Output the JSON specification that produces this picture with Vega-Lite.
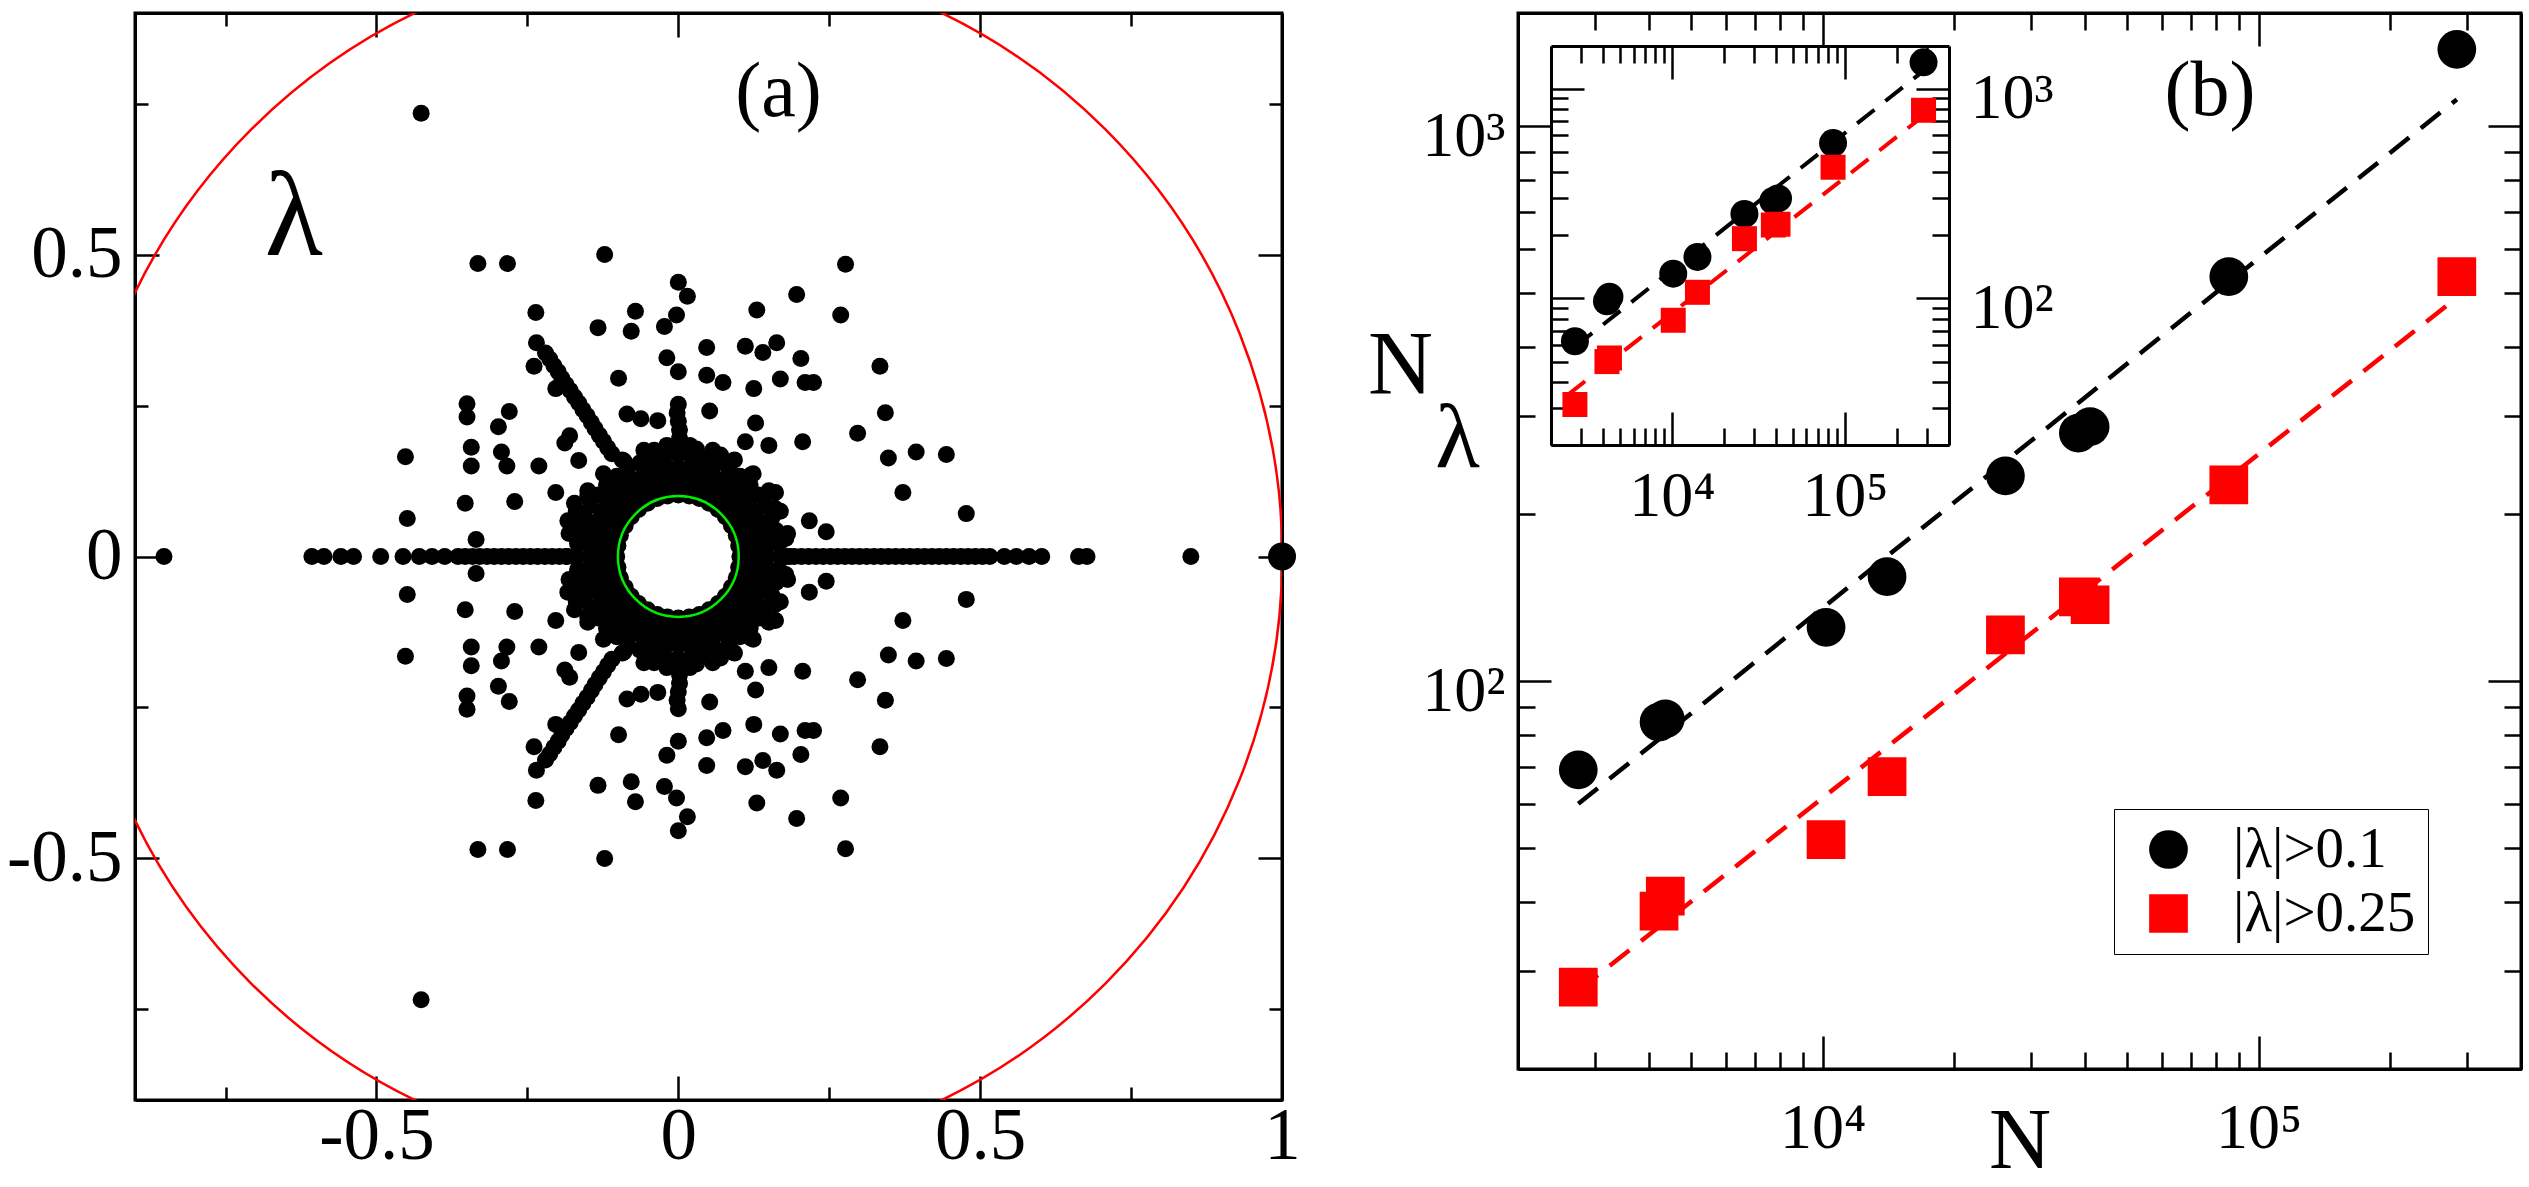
{
"$schema":"https://vega.github.io/schema/vega-lite/v6.json",
"background":"white",
"padding":{"left":4,"top":10,"right":5,"bottom":0},
"bounds":"flush",
"spacing":236,
"datasets":{
"eig":[
{"x":-0.426,"y":0.734},{"x":-0.332,"y":0.485},{"x":-0.283,"y":0.485},{"x":-0.122,"y":0.5},{"x":0.277,"y":0.484},{"x":0,"y":0.454},{"x":0.015,"y":0.431},{"x":0.196,"y":0.434},{"x":0.13,"y":0.408},{"x":0.269,"y":0.4},
{"x":-0.236,"y":0.404},{"x":-0.071,"y":0.406},{"x":-0.078,"y":0.373},{"x":-0.133,"y":0.379},{"x":-0.023,"y":0.381},{"x":-0.003,"y":0.4},{"x":-0.235,"y":0.354},{"x":0.047,"y":0.346},{"x":0.111,"y":0.348},{"x":0.163,"y":0.354},
{"x":0.14,"y":0.338},{"x":0.203,"y":0.328},{"x":0.334,"y":0.315},{"x":-0.239,"y":0.315},{"x":-0.019,"y":0.329},{"x":0,"y":0.306},{"x":0.047,"y":0.3},{"x":0.074,"y":0.288},{"x":-0.099,"y":0.295},{"x":-0.203,"y":0.278},
{"x":0.125,"y":0.278},{"x":0.169,"y":0.294},{"x":0.21,"y":0.288},{"x":0.224,"y":0.288},{"x":-0.35,"y":0.253},{"x":-0.35,"y":0.231},{"x":-0.28,"y":0.24},{"x":-0.298,"y":0.215},{"x":0.052,"y":0.241},{"x":0.343,"y":0.238},
{"x":-0.085,"y":0.236},{"x":-0.062,"y":0.228},{"x":-0.034,"y":0.225},{"x":-0.18,"y":0.2},{"x":-0.188,"y":0.188},{"x":0.111,"y":0.19},{"x":0.128,"y":0.221},{"x":0.15,"y":0.184},{"x":0.206,"y":0.19},{"x":0.297,"y":0.204},
{"x":-0.343,"y":0.181},{"x":-0.343,"y":0.15},{"x":-0.293,"y":0.173},{"x":-0.284,"y":0.15},{"x":-0.231,"y":0.15},{"x":-0.165,"y":0.159},{"x":0.348,"y":0.163},{"x":0.394,"y":0.173},{"x":0.444,"y":0.169},{"x":-0.452,"y":0.165},
{"x":0.372,"y":0.106},{"x":0.477,"y":0.071},{"x":0.217,"y":0.059},{"x":0.245,"y":0.041},{"x":-0.449,"y":0.063},{"x":-0.353,"y":0.088},{"x":-0.271,"y":0.091},{"x":-0.335,"y":0.028},{"x":-0.203,"y":0.106},{"x":-0.183,"y":0.059},
{"x":-0.172,"y":0.088},{"x":0.161,"y":0.106},
{"x":-0.426,"y":-0.734},{"x":-0.332,"y":-0.485},{"x":-0.283,"y":-0.485},{"x":-0.122,"y":-0.5},{"x":0.277,"y":-0.484},{"x":0,"y":-0.454},{"x":0.015,"y":-0.431},{"x":0.196,"y":-0.434},{"x":0.13,"y":-0.408},{"x":0.269,"y":-0.4},
{"x":-0.236,"y":-0.404},{"x":-0.071,"y":-0.406},{"x":-0.078,"y":-0.373},{"x":-0.133,"y":-0.379},{"x":-0.023,"y":-0.381},{"x":-0.003,"y":-0.4},{"x":-0.235,"y":-0.354},{"x":0.047,"y":-0.346},{"x":0.111,"y":-0.348},{"x":0.163,"y":-0.354},
{"x":0.14,"y":-0.338},{"x":0.203,"y":-0.328},{"x":0.334,"y":-0.315},{"x":-0.239,"y":-0.315},{"x":-0.019,"y":-0.329},{"x":0,"y":-0.306},{"x":0.047,"y":-0.3},{"x":0.074,"y":-0.288},{"x":-0.099,"y":-0.295},{"x":-0.203,"y":-0.278},
{"x":0.125,"y":-0.278},{"x":0.169,"y":-0.294},{"x":0.21,"y":-0.288},{"x":0.224,"y":-0.288},{"x":-0.35,"y":-0.253},{"x":-0.35,"y":-0.231},{"x":-0.28,"y":-0.24},{"x":-0.298,"y":-0.215},{"x":0.052,"y":-0.241},{"x":0.343,"y":-0.238},
{"x":-0.085,"y":-0.236},{"x":-0.062,"y":-0.228},{"x":-0.034,"y":-0.225},{"x":-0.18,"y":-0.2},{"x":-0.188,"y":-0.188},{"x":0.111,"y":-0.19},{"x":0.128,"y":-0.221},{"x":0.15,"y":-0.184},{"x":0.206,"y":-0.19},{"x":0.297,"y":-0.204},
{"x":-0.343,"y":-0.181},{"x":-0.343,"y":-0.15},{"x":-0.293,"y":-0.173},{"x":-0.284,"y":-0.15},{"x":-0.231,"y":-0.15},{"x":-0.165,"y":-0.159},{"x":0.348,"y":-0.163},{"x":0.394,"y":-0.173},{"x":0.444,"y":-0.169},{"x":-0.452,"y":-0.165},
{"x":0.372,"y":-0.106},{"x":0.477,"y":-0.071},{"x":0.217,"y":-0.059},{"x":0.245,"y":-0.041},{"x":-0.449,"y":-0.063},{"x":-0.353,"y":-0.088},{"x":-0.271,"y":-0.091},{"x":-0.335,"y":-0.028},{"x":-0.203,"y":-0.106},{"x":-0.183,"y":-0.059},
{"x":-0.172,"y":-0.088},{"x":0.161,"y":-0.106},
{"x":0,"y":0.182},{"x":0.002,"y":0.196},{"x":0.002,"y":0.21},{"x":0,"y":0.224},{"x":-0.002,"y":0.238},{"x":0,"y":0.252},
{"x":0,"y":-0.182},{"x":0.002,"y":-0.196},{"x":0.002,"y":-0.21},{"x":0,"y":-0.224},{"x":-0.002,"y":-0.238},{"x":0,"y":-0.252},
{"x":-0.11,"y":0.17},{"x":-0.117,"y":0.18},{"x":-0.124,"y":0.191},{"x":-0.131,"y":0.201},{"x":-0.138,"y":0.212},{"x":-0.144,"y":0.222},{"x":-0.151,"y":0.233},{"x":-0.158,"y":0.243},{"x":-0.165,"y":0.254},{"x":-0.172,"y":0.264},{"x":-0.179,"y":0.275},{"x":-0.186,"y":0.285},{"x":-0.193,"y":0.295},{"x":-0.199,"y":0.306},{"x":-0.206,"y":0.316},{"x":-0.213,"y":0.327},{"x":-0.22,"y":0.337},
{"x":-0.11,"y":-0.17},{"x":-0.117,"y":-0.18},{"x":-0.124,"y":-0.191},{"x":-0.131,"y":-0.201},{"x":-0.138,"y":-0.212},{"x":-0.144,"y":-0.222},{"x":-0.151,"y":-0.233},{"x":-0.158,"y":-0.243},{"x":-0.165,"y":-0.254},{"x":-0.172,"y":-0.264},{"x":-0.179,"y":-0.275},{"x":-0.186,"y":-0.285},{"x":-0.193,"y":-0.295},{"x":-0.199,"y":-0.306},{"x":-0.206,"y":-0.316},{"x":-0.213,"y":-0.327},{"x":-0.22,"y":-0.337},
{"x":0.03,"y":0.178},{"x":0.07,"y":0.168},{"x":-0.04,"y":0.176},{"x":-0.09,"y":0.158},{"x":0.12,"y":0.135},{"x":0.16,"y":0.08},{"x":0.178,"y":0.03},{"x":-0.15,"y":0.1},{"x":-0.165,"y":0.06},
{"x":0.03,"y":-0.178},{"x":0.07,"y":-0.168},{"x":-0.04,"y":-0.176},{"x":-0.09,"y":-0.158},{"x":0.12,"y":-0.135},{"x":0.16,"y":-0.08},{"x":0.178,"y":-0.03},{"x":-0.15,"y":-0.1},{"x":-0.165,"y":-0.06},
{"x":0.185,"y":0},{"x":0.181,"y":0.038},{"x":0.169,"y":0.075},{"x":0.15,"y":0.109},{"x":0.124,"y":0.137},{"x":0.093,"y":0.16},{"x":0.057,"y":0.176},{"x":0.019,"y":0.184},{"x":-0.019,"y":0.184},{"x":-0.057,"y":0.176},{"x":-0.093,"y":0.16},{"x":-0.124,"y":0.137},{"x":-0.15,"y":0.109},{"x":-0.169,"y":0.075},{"x":-0.181,"y":0.038},{"x":-0.185,"y":0},
{"x":0.181,"y":-0.038},{"x":0.169,"y":-0.075},{"x":0.15,"y":-0.109},{"x":0.124,"y":-0.137},{"x":0.093,"y":-0.16},{"x":0.057,"y":-0.176},{"x":0.019,"y":-0.184},{"x":-0.019,"y":-0.184},{"x":-0.057,"y":-0.176},{"x":-0.093,"y":-0.16},{"x":-0.124,"y":-0.137},{"x":-0.15,"y":-0.109},{"x":-0.169,"y":-0.075},{"x":-0.181,"y":-0.038},
{"x":0.102,"y":0},{"x":0.1,"y":0.018},{"x":0.096,"y":0.035},{"x":0.088,"y":0.051},{"x":0.078,"y":0.066},{"x":0.066,"y":0.078},{"x":0.051,"y":0.088},{"x":0.035,"y":0.096},{"x":0.018,"y":0.1},{"x":0,"y":0.102},
{"x":-0.018,"y":0.1},{"x":-0.035,"y":0.096},{"x":-0.051,"y":0.088},{"x":-0.066,"y":0.078},{"x":-0.078,"y":0.066},{"x":-0.088,"y":0.051},{"x":-0.096,"y":0.035},{"x":-0.1,"y":0.018},{"x":-0.102,"y":0},
{"x":-0.1,"y":-0.018},{"x":-0.096,"y":-0.035},{"x":-0.088,"y":-0.051},{"x":-0.078,"y":-0.066},{"x":-0.066,"y":-0.078},{"x":-0.051,"y":-0.088},{"x":-0.035,"y":-0.096},{"x":-0.018,"y":-0.1},{"x":0,"y":-0.102},
{"x":0.018,"y":-0.1},{"x":0.035,"y":-0.096},{"x":0.051,"y":-0.088},{"x":0.066,"y":-0.078},{"x":0.078,"y":-0.066},{"x":0.088,"y":-0.051},{"x":0.096,"y":-0.035},{"x":0.1,"y":-0.018},
{"x":0.124,"y":0},{"x":0.123,"y":0.016},{"x":0.12,"y":0.032},{"x":0.115,"y":0.047},{"x":0.107,"y":0.062},{"x":0.098,"y":0.075},{"x":0.088,"y":0.088},{"x":0.075,"y":0.098},{"x":0.062,"y":0.107},{"x":0.047,"y":0.115},{"x":0.032,"y":0.12},{"x":0.016,"y":0.123},{"x":0,"y":0.124},
{"x":-0.016,"y":0.123},{"x":-0.032,"y":0.12},{"x":-0.047,"y":0.115},{"x":-0.062,"y":0.107},{"x":-0.075,"y":0.098},{"x":-0.088,"y":0.088},{"x":-0.098,"y":0.075},{"x":-0.107,"y":0.062},{"x":-0.115,"y":0.047},{"x":-0.12,"y":0.032},{"x":-0.123,"y":0.016},{"x":-0.124,"y":0},
{"x":-0.123,"y":-0.016},{"x":-0.12,"y":-0.032},{"x":-0.115,"y":-0.047},{"x":-0.107,"y":-0.062},{"x":-0.098,"y":-0.075},{"x":-0.088,"y":-0.088},{"x":-0.075,"y":-0.098},{"x":-0.062,"y":-0.107},{"x":-0.047,"y":-0.115},{"x":-0.032,"y":-0.12},{"x":-0.016,"y":-0.123},{"x":0,"y":-0.124},
{"x":0.016,"y":-0.123},{"x":0.032,"y":-0.12},{"x":0.047,"y":-0.115},{"x":0.062,"y":-0.107},{"x":0.075,"y":-0.098},{"x":0.088,"y":-0.088},{"x":0.098,"y":-0.075},{"x":0.107,"y":-0.062},{"x":0.115,"y":-0.047},{"x":0.12,"y":-0.032},{"x":0.123,"y":-0.016},
{"x":0.146,"y":0},{"x":0.145,"y":0.015},{"x":0.143,"y":0.03},{"x":0.139,"y":0.045},{"x":0.133,"y":0.059},{"x":0.126,"y":0.073},{"x":0.118,"y":0.086},{"x":0.108,"y":0.098},{"x":0.098,"y":0.108},{"x":0.086,"y":0.118},{"x":0.073,"y":0.126},{"x":0.059,"y":0.133},{"x":0.045,"y":0.139},{"x":0.03,"y":0.143},{"x":0.015,"y":0.145},{"x":0,"y":0.146},
{"x":-0.015,"y":0.145},{"x":-0.03,"y":0.143},{"x":-0.045,"y":0.139},{"x":-0.059,"y":0.133},{"x":-0.073,"y":0.126},{"x":-0.086,"y":0.118},{"x":-0.098,"y":0.108},{"x":-0.108,"y":0.098},{"x":-0.118,"y":0.086},{"x":-0.126,"y":0.073},{"x":-0.133,"y":0.059},{"x":-0.139,"y":0.045},{"x":-0.143,"y":0.03},{"x":-0.145,"y":0.015},{"x":-0.146,"y":0},
{"x":-0.145,"y":-0.015},{"x":-0.143,"y":-0.03},{"x":-0.139,"y":-0.045},{"x":-0.133,"y":-0.059},{"x":-0.126,"y":-0.073},{"x":-0.118,"y":-0.086},{"x":-0.108,"y":-0.098},{"x":-0.098,"y":-0.108},{"x":-0.086,"y":-0.118},{"x":-0.073,"y":-0.126},{"x":-0.059,"y":-0.133},{"x":-0.045,"y":-0.139},{"x":-0.03,"y":-0.143},{"x":-0.015,"y":-0.145},{"x":0,"y":-0.146},
{"x":0.015,"y":-0.145},{"x":0.03,"y":-0.143},{"x":0.045,"y":-0.139},{"x":0.059,"y":-0.133},{"x":0.073,"y":-0.126},{"x":0.086,"y":-0.118},{"x":0.098,"y":-0.108},{"x":0.108,"y":-0.098},{"x":0.118,"y":-0.086},{"x":0.126,"y":-0.073},{"x":0.133,"y":-0.059},{"x":0.139,"y":-0.045},{"x":0.143,"y":-0.03},{"x":0.145,"y":-0.015},
{"x":0.168,"y":0},{"x":0.167,"y":0.022},{"x":0.162,"y":0.043},{"x":0.155,"y":0.064},{"x":0.145,"y":0.084},{"x":0.133,"y":0.102},{"x":0.119,"y":0.119},{"x":0.102,"y":0.133},{"x":0.084,"y":0.145},{"x":0.064,"y":0.155},{"x":0.043,"y":0.162},{"x":0.022,"y":0.167},{"x":0,"y":0.168},
{"x":-0.022,"y":0.167},{"x":-0.043,"y":0.162},{"x":-0.064,"y":0.155},{"x":-0.084,"y":0.145},{"x":-0.102,"y":0.133},{"x":-0.119,"y":0.119},{"x":-0.133,"y":0.102},{"x":-0.145,"y":0.084},{"x":-0.155,"y":0.064},{"x":-0.162,"y":0.043},{"x":-0.167,"y":0.022},{"x":-0.168,"y":0},
{"x":-0.167,"y":-0.022},{"x":-0.162,"y":-0.043},{"x":-0.155,"y":-0.064},{"x":-0.145,"y":-0.084},{"x":-0.133,"y":-0.102},{"x":-0.119,"y":-0.119},{"x":-0.102,"y":-0.133},{"x":-0.084,"y":-0.145},{"x":-0.064,"y":-0.155},{"x":-0.043,"y":-0.162},{"x":-0.022,"y":-0.167},{"x":0,"y":-0.168},
{"x":0.022,"y":-0.167},{"x":0.043,"y":-0.162},{"x":0.064,"y":-0.155},{"x":0.084,"y":-0.145},{"x":0.102,"y":-0.133},{"x":0.119,"y":-0.119},{"x":0.133,"y":-0.102},{"x":0.145,"y":-0.084},{"x":0.155,"y":-0.064},{"x":0.162,"y":-0.043},{"x":0.167,"y":-0.022},
{"x":-0.852,"y":0},{"x":-0.607,"y":0},{"x":-0.587,"y":0},{"x":-0.559,"y":0},{"x":-0.538,"y":0},{"x":-0.493,"y":0},{"x":-0.456,"y":0},{"x":-0.429,"y":0},{"x":-0.408,"y":0},{"x":-0.387,"y":0},
{"x":-0.365,"y":0},{"x":-0.353,"y":0},{"x":-0.341,"y":0},{"x":-0.329,"y":0},{"x":-0.317,"y":0},{"x":-0.305,"y":0},{"x":-0.293,"y":0},{"x":-0.281,"y":0},{"x":-0.269,"y":0},{"x":-0.257,"y":0},{"x":-0.245,"y":0},{"x":-0.233,"y":0},{"x":-0.221,"y":0},{"x":-0.209,"y":0},{"x":-0.197,"y":0},{"x":-0.185,"y":0},{"x":-0.173,"y":0},
{"x":0.18,"y":0},{"x":0.192,"y":0},{"x":0.204,"y":0},{"x":0.216,"y":0},{"x":0.228,"y":0},{"x":0.24,"y":0},{"x":0.252,"y":0},{"x":0.264,"y":0},{"x":0.276,"y":0},{"x":0.288,"y":0},{"x":0.3,"y":0},{"x":0.312,"y":0},{"x":0.324,"y":0},{"x":0.336,"y":0},{"x":0.348,"y":0},
{"x":0.36,"y":0},{"x":0.372,"y":0},{"x":0.384,"y":0},{"x":0.396,"y":0},{"x":0.408,"y":0},{"x":0.42,"y":0},{"x":0.432,"y":0},{"x":0.444,"y":0},{"x":0.456,"y":0},{"x":0.468,"y":0},{"x":0.48,"y":0},{"x":0.492,"y":0},{"x":0.504,"y":0},{"x":0.516,"y":0},
{"x":0.54,"y":0},{"x":0.56,"y":0},{"x":0.581,"y":0},{"x":0.602,"y":0},{"x":0.663,"y":0},{"x":0.677,"y":0},{"x":0.849,"y":0}
],
"main":[
{"s":"|λ|>0.1","N":2750,"n":69.2},{"s":"|λ|>0.1","N":4213,"n":84.4},{"s":"|λ|>0.1","N":4355,"n":85.5},{"s":"|λ|>0.1","N":10180,"n":125},{"s":"|λ|>0.1","N":14050,"n":154.3},{"s":"|λ|>0.1","N":26260,"n":234.4},{"s":"|λ|>0.1","N":38600,"n":280},{"s":"|λ|>0.1","N":41070,"n":287.5},{"s":"|λ|>0.1","N":85450,"n":535.8},{"s":"|λ|>0.1","N":285000,"n":1376},
{"s":"|λ|>0.25","N":2750,"n":28.1},{"s":"|λ|>0.25","N":4213,"n":38.5},{"s":"|λ|>0.25","N":4355,"n":41},{"s":"|λ|>0.25","N":10180,"n":51.8},{"s":"|λ|>0.25","N":14050,"n":67.3},{"s":"|λ|>0.25","N":26260,"n":121.2},{"s":"|λ|>0.25","N":38600,"n":141.8},{"s":"|λ|>0.25","N":41070,"n":137.3},{"s":"|λ|>0.25","N":85450,"n":225.7},{"s":"|λ|>0.25","N":285000,"n":535.8}
],
"mainfit":[
{"s":"|λ|>0.1","N":2750,"n":60.1},{"s":"|λ|>0.1","N":285000,"n":1118},
{"s":"|λ|>0.25","N":2750,"n":27.7},{"s":"|λ|>0.25","N":285000,"n":490.8}
],
"inset":[
{"s":"|λ|>0.1","N":2750,"n":62.5},{"s":"|λ|>0.1","N":4213,"n":97},{"s":"|λ|>0.1","N":4355,"n":102},{"s":"|λ|>0.1","N":10180,"n":131.3},{"s":"|λ|>0.1","N":14050,"n":157.8},{"s":"|λ|>0.1","N":26260,"n":253},{"s":"|λ|>0.1","N":38600,"n":292},{"s":"|λ|>0.1","N":41070,"n":300},{"s":"|λ|>0.1","N":85450,"n":551},{"s":"|λ|>0.1","N":285000,"n":1338},
{"s":"|λ|>0.25","N":2750,"n":31.2},{"s":"|λ|>0.25","N":4213,"n":50},{"s":"|λ|>0.25","N":4355,"n":52},{"s":"|λ|>0.25","N":10180,"n":78.7},{"s":"|λ|>0.25","N":14050,"n":107},{"s":"|λ|>0.25","N":26260,"n":192.8},{"s":"|λ|>0.25","N":38600,"n":224},{"s":"|λ|>0.25","N":41070,"n":226},{"s":"|λ|>0.25","N":85450,"n":422.5},{"s":"|λ|>0.25","N":285000,"n":790}
],
"insetfit":[
{"s":"|λ|>0.1","N":2750,"n":58.8},{"s":"|λ|>0.1","N":285000,"n":1218},
{"s":"|λ|>0.25","N":2500,"n":34.7},{"s":"|λ|>0.25","N":300000,"n":767.5}
]
},
"hconcat":[
{
"width":1147,"height":1087,
"layer":[
{"data":{"values":[{"x":0,"y":0}]},
 "mark":{"type":"point","shape":"circle","filled":false,"color":"#ff0000","opacity":1,"strokeWidth":2.5,"size":1459264,"clip":true},
 "encoding":{"x":{"field":"x","type":"quantitative","scale":{"domain":[-0.9,1],"nice":false,"zero":false},"axis":null},
             "y":{"field":"y","type":"quantitative","scale":{"domain":[-0.9,0.9],"nice":false,"zero":false},"axis":null}}},
{"data":{"name":"eig"},
 "mark":{"type":"point","shape":"circle","filled":true,"color":"black","opacity":1,"size":289,"strokeWidth":0},
 "encoding":{"x":{"field":"x","type":"quantitative","scale":{"domain":[-0.9,1],"nice":false,"zero":false},
   "axis":{"orient":"bottom","title":null,"values":[-0.75,-0.5,-0.25,0,0.25,0.5,0.75,1],
     "labelExpr":"datum.value == -0.5 ? '-0.5' : datum.value == 0 ? '0' : datum.value == 0.5 ? '0.5' : datum.value == 1 ? '1' : ''",
     "tickSize":{"condition":{"test":"datum.value == -0.5 || datum.value == 0 || datum.value == 0.5 || datum.value == 1","value":-24},"value":-13},
     "labelFontSize":73,"labelPadding":24,"labelBaseline":"top"}},
   "y":{"field":"y","type":"quantitative","scale":{"domain":[-0.9,0.9],"nice":false,"zero":false},
   "axis":{"orient":"left","title":null,"values":[-0.75,-0.5,-0.25,0,0.25,0.5,0.75],
     "labelExpr":"datum.value == -0.5 ? '-0.5' : datum.value == 0 ? '0' : datum.value == 0.5 ? '0.5' : ''",
     "tickSize":{"condition":{"test":"datum.value == -0.5 || datum.value == 0 || datum.value == 0.5","value":-24},"value":-13},
     "labelFontSize":73,"labelPadding":37}}}},
{"data":{"values":[{"x":1,"y":0}]},
 "mark":{"type":"point","shape":"circle","filled":true,"color":"black","opacity":1,"size":784,"strokeWidth":0},
 "encoding":{"x":{"field":"x","type":"quantitative","scale":{"domain":[-0.9,1],"nice":false,"zero":false},
   "axis":{"orient":"top","title":null,"labels":false,"values":[-0.75,-0.5,-0.25,0,0.25,0.5,0.75],
     "tickSize":{"condition":{"test":"datum.value == -0.5 || datum.value == 0 || datum.value == 0.5","value":-24},"value":-13}}},
   "y":{"field":"y","type":"quantitative","scale":{"domain":[-0.9,0.9],"nice":false,"zero":false},
   "axis":{"orient":"right","title":null,"labels":false,"values":[-0.75,-0.5,-0.25,0,0.25,0.5,0.75],
     "tickSize":{"condition":{"test":"datum.value == -0.5 || datum.value == 0 || datum.value == 0.5","value":-24},"value":-13}}}}},
{"data":{"values":[{"x":0,"y":0}]},
 "mark":{"type":"point","shape":"circle","filled":false,"color":"#00ee00","opacity":1,"strokeWidth":2.5,"size":14593},
 "encoding":{"x":{"field":"x","type":"quantitative","scale":{"domain":[-0.9,1],"nice":false,"zero":false},"axis":null},
             "y":{"field":"y","type":"quantitative","scale":{"domain":[-0.9,0.9],"nice":false,"zero":false},"axis":null}}},
{"data":{"values":[{"x":0.166,"y":0.768,"t":"(a)"}]},
 "mark":{"type":"text","font":"Liberation Serif","fontSize":78,"color":"black","align":"center","baseline":"middle"},
 "encoding":{"x":{"field":"x","type":"quantitative","axis":null},"y":{"field":"y","type":"quantitative","axis":null},"text":{"field":"t"}}},
{"data":{"values":[{"x":-0.637,"y":0.559,"t":"λ"}]},
 "mark":{"type":"text","font":"Liberation Serif","fontSize":120,"color":"black","align":"center","baseline":"middle"},
 "encoding":{"x":{"field":"x","type":"quantitative","axis":null},"y":{"field":"y","type":"quantitative","axis":null},"text":{"field":"t"}}}
],
"resolve":{"axis":{"x":"independent","y":"independent"}}
},
{
"width":1003,"height":1056,
"layer":[
{
"layer":[
{"data":{"name":"mainfit"},"transform":[{"filter":"datum.s == '|λ|>0.1'"}],
 "mark":{"type":"line","color":"black","strokeWidth":4.5,"strokeDash":[25,15]},
 "encoding":{"x":{"field":"N","type":"quantitative","scale":{"type":"log","domain":[2000,400000],"nice":false},
   "axis":{"orient":"top","title":null,"labels":false,"values":[2000,3000,4000,5000,6000,7000,8000,9000,10000,20000,30000,40000,50000,60000,70000,80000,90000,100000,200000,300000],
     "tickSize":{"condition":{"test":"datum.value == 10000 || datum.value == 100000","value":-33},"value":-17}}},
   "y":{"field":"n","type":"quantitative","scale":{"type":"log","domain":[20,1600],"nice":false},
   "axis":{"orient":"right","labels":false,"values":[20,30,40,50,60,70,80,90,100,200,300,400,500,600,700,800,900,1000],
     "tickSize":{"condition":{"test":"datum.value == 100 || datum.value == 1000","value":-33},"value":-17},
     "title":"λ","titleAngle":0,"titleX":-1064,"titleY":453,"titleAlign":"center","titleBaseline":"alphabetic","titleFontSize":92}}}},
{"data":{"name":"mainfit"},"transform":[{"filter":"datum.s == '|λ|>0.25'"}],
 "mark":{"type":"line","color":"#ff0000","strokeWidth":4.5,"strokeDash":[25,15]},
 "encoding":{"x":{"field":"N","type":"quantitative","scale":{"type":"log","domain":[2000,400000],"nice":false},"axis":null},
   "y":{"field":"n","type":"quantitative","scale":{"type":"log","domain":[20,1600],"nice":false},"axis":null}}},
{"data":{"name":"main"},
 "mark":{"type":"point","filled":true,"opacity":1,"size":1500,"strokeWidth":0},
 "encoding":{"x":{"field":"N","type":"quantitative","scale":{"type":"log","domain":[2000,400000],"nice":false},
   "axis":{"orient":"bottom","values":[2000,3000,4000,5000,6000,7000,8000,9000,10000,20000,30000,40000,50000,60000,70000,80000,90000,100000,200000,300000],
     "labelExpr":"datum.value == 10000 ? '10⁴' : datum.value == 100000 ? '10⁵' : ''",
     "tickSize":{"condition":{"test":"datum.value == 10000 || datum.value == 100000","value":-33},"value":-17},
     "labelFontSize":64,"labelPadding":60,"labelBaseline":"top",
     "title":"N","titleFontSize":86,"titleY":98,"titleBaseline":"alphabetic"}},
   "y":{"field":"n","type":"quantitative","scale":{"type":"log","domain":[20,1600],"nice":false},
   "axis":{"orient":"left","values":[20,30,40,50,60,70,80,90,100,200,300,400,500,600,700,800,900,1000],
     "labelExpr":"datum.value == 100 ? '10²' : datum.value == 1000 ? '10³' : ''",
     "tickSize":{"condition":{"test":"datum.value == 100 || datum.value == 1000","value":-33},"value":-17},
     "labelFontSize":64,"labelPadding":46,"labelOffset":10,
     "title":"N","titleAngle":0,"titleX":-118,"titleY":380,"titleAlign":"center","titleBaseline":"alphabetic","titleFontSize":90}},
   "color":{"field":"s","type":"nominal","scale":{"domain":["|λ|>0.1","|λ|>0.25"],"range":["black","#ff0000"]},
     "legend":{"title":null,"orient":"none","legendX":596,"legendY":796,"strokeColor":"black","fillColor":"white","padding":12,"symbolOffset":14,"labelFont":"Liberation Serif","labelFontSize":57,"labelColor":"black","symbolSize":1500,"labelOffset":36,"rowPadding":6,"symbolOpacity":1,"symbolStrokeWidth":0,"labelLimit":0}},
   "shape":{"field":"s","type":"nominal","scale":{"domain":["|λ|>0.1","|λ|>0.25"],"range":["circle","square"]},
     "legend":{"title":null,"orient":"none","legendX":596,"legendY":796,"strokeColor":"black","fillColor":"white","padding":12,"symbolOffset":14,"labelFont":"Liberation Serif","labelFontSize":57,"labelColor":"black","symbolSize":1500,"labelOffset":36,"rowPadding":6,"symbolOpacity":1,"symbolStrokeWidth":0,"labelLimit":0}}}},
{"data":{"values":[{"N":77350,"n":1152,"t":"(b)"}]},
 "mark":{"type":"text","font":"Liberation Serif","fontSize":78,"color":"black","align":"center","baseline":"middle"},
 "encoding":{"x":{"field":"N","type":"quantitative","scale":{"type":"log","domain":[2000,400000],"nice":false},"axis":null},
   "y":{"field":"n","type":"quantitative","scale":{"type":"log","domain":[20,1600],"nice":false},"axis":null},"text":{"field":"t"}}}
],
"resolve":{"axis":{"x":"independent","y":"independent"}}
},
{
"layer":[
{"data":{"name":"insetfit"},"transform":[{"filter":"datum.s == '|λ|>0.1'"}],
 "mark":{"type":"line","color":"black","strokeWidth":4,"strokeDash":[22,14]},
 "encoding":{"x":{"field":"N","type":"quantitative","scale":{"type":"log","domain":[2000,400000],"nice":false,"range":[33,431]},
   "axis":{"orient":"bottom","offset":-624,"values":[2000,3000,4000,5000,6000,7000,8000,9000,10000,20000,30000,40000,50000,60000,70000,80000,90000,100000,200000,300000],
     "labelExpr":"datum.value == 10000 ? '10⁴' : datum.value == 100000 ? '10⁵' : ''",
     "tickSize":{"condition":{"test":"datum.value == 10000 || datum.value == 100000","value":-33},"value":-17},
     "labelFontSize":64,"labelPadding":52,"labelBaseline":"top","title":null}},
   "y":{"field":"n","type":"quantitative","scale":{"type":"log","domain":[20,1600],"nice":false,"range":[432,33]},
   "axis":{"orient":"left","offset":-33,"labels":false,"title":null,"values":[20,30,40,50,60,70,80,90,100,200,300,400,500,600,700,800,900,1000],
     "tickSize":{"condition":{"test":"datum.value == 100 || datum.value == 1000","value":-33},"value":-17}}}}},
{"data":{"name":"insetfit"},"transform":[{"filter":"datum.s == '|λ|>0.25'"}],
 "mark":{"type":"line","color":"#ff0000","strokeWidth":4,"strokeDash":[22,14]},
 "encoding":{"x":{"field":"N","type":"quantitative","scale":{"type":"log","domain":[2000,400000],"nice":false,"range":[33,431]},
   "axis":{"orient":"top","offset":-33,"labels":false,"title":null,"values":[2000,3000,4000,5000,6000,7000,8000,9000,10000,20000,30000,40000,50000,60000,70000,80000,90000,100000,200000,300000],
     "tickSize":{"condition":{"test":"datum.value == 10000 || datum.value == 100000","value":-33},"value":-17}}},
   "y":{"field":"n","type":"quantitative","scale":{"type":"log","domain":[20,1600],"nice":false,"range":[432,33]},
   "axis":{"orient":"right","offset":-572,"title":null,"values":[20,30,40,50,60,70,80,90,100,200,300,400,500,600,700,800,900,1000],
     "labelExpr":"datum.value == 100 ? '10²' : datum.value == 1000 ? '10³' : ''",
     "tickSize":{"condition":{"test":"datum.value == 100 || datum.value == 1000","value":-33},"value":-17},
     "labelFontSize":64,"labelPadding":54,"labelOffset":10}}}},
{"data":{"name":"inset"},"transform":[{"filter":"datum.s == '|λ|>0.1'"}],
 "mark":{"type":"point","shape":"circle","filled":true,"color":"black","opacity":1,"size":784,"strokeWidth":0},
 "encoding":{"x":{"field":"N","type":"quantitative","scale":{"type":"log","domain":[2000,400000],"nice":false,"range":[33,431]},"axis":null},
   "y":{"field":"n","type":"quantitative","scale":{"type":"log","domain":[20,1600],"nice":false,"range":[432,33]},"axis":null}}},
{"data":{"name":"inset"},"transform":[{"filter":"datum.s == '|λ|>0.25'"}],
 "mark":{"type":"point","shape":"square","filled":true,"color":"#ff0000","opacity":1,"size":625,"strokeWidth":0},
 "encoding":{"x":{"field":"N","type":"quantitative","scale":{"type":"log","domain":[2000,400000],"nice":false,"range":[33,431]},"axis":null},
   "y":{"field":"n","type":"quantitative","scale":{"type":"log","domain":[20,1600],"nice":false,"range":[432,33]},"axis":null}}}
],
"resolve":{"axis":{"x":"independent","y":"independent"}}
}
],
"resolve":{"scale":{"x":"independent","y":"independent"},"axis":{"x":"independent","y":"independent"}}
}
],
"resolve":{"scale":{"color":"independent","shape":"independent"}},
"config":{
"view":{"stroke":"black","strokeWidth":3},
"axis":{"grid":false,"domainColor":"black","domainWidth":3,"tickColor":"black","tickWidth":2.5,"labelColor":"black","labelFont":"Liberation Serif","titleFont":"Liberation Serif","titleFontWeight":"normal","titleColor":"black","labelFlush":false,"labelOverlap":false,"labelBound":false},
"legend":{"labelFont":"Liberation Serif","labelFontSize":57,"labelColor":"black"},
"text":{"font":"Liberation Serif"}
}
}
